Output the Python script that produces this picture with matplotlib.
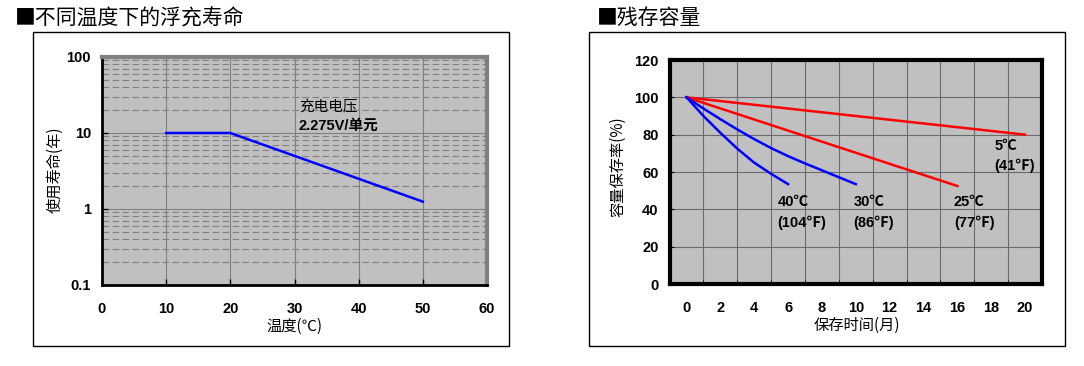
import matplotlib
matplotlib.use('Agg')
import matplotlib.pyplot as plt
import matplotlib.patches as patches
from matplotlib.ticker import LogLocator, NullFormatter

plt.rcParams['font.family'] = ['Liberation Sans', 'Noto Sans CJK SC', 'DejaVu Sans']

# float life vs temperature
temps = [10, 20, 30, 40, 50]
life_years = [10, 10, 5, 2.5, 1.25]

# residual capacity vs storage time
t_40 = [0, 1, 2, 3, 4, 5, 6]
cap_40 = [100, 90, 81, 72.5, 65, 59, 53.5]
t_30 = [0, 1, 2, 3, 4, 5, 6, 7, 8, 9, 10]
cap_30 = [100, 94, 88.3, 82.8, 77.6, 72.8, 68.5, 64.6, 60.9, 57.2, 53.5]
t_25 = [0, 16]
cap_25 = [100, 52.5]
t_5 = [0, 20]
cap_5 = [100, 80]

bg = '#c0c0c0'
grid_c = '#808080'
cjk = ['Noto Sans CJK SC', 'DejaVu Sans']
num_font = ['Liberation Sans', 'Noto Sans CJK SC']

fig = plt.figure(figsize=(10.84, 3.66), dpi=100)
W, H = 1084, 366


def px_axes(x0, y0, x1, y1):
    return fig.add_axes([x0 / W, 1 - y1 / H, (x1 - x0) / W, (y1 - y0) / H])


# outer boxes
for (x0, y0, x1, y1) in [(33, 32, 509, 346), (589, 32, 1065, 346)]:
    fig.patches.append(patches.Rectangle((x0 / W, 1 - y1 / H), (x1 - x0) / W, (y1 - y0) / H,
                                         transform=fig.transFigure, fill=False,
                                         edgecolor='black', linewidth=1))

fig.text(15 / W, 1 - 18 / H, '■不同温度下的浮充寿命', fontsize=15, family=cjk,
         ha='left', va='center')
fig.text(597 / W, 1 - 18 / H, '■残存容量', fontsize=15, family=cjk,
         ha='left', va='center')

# ---- left chart ----
ax1 = px_axes(102, 57, 487, 285)
ax1.set_facecolor(bg)
ax1.set_yscale('log')
ax1.set_xlim(0, 60)
ax1.set_ylim(0.1, 100)
ax1.set_xticks(range(0, 61, 10))
ax1.set_yticks([0.1, 1, 10, 100], ['0.1', '1', '10', '100'])
ax1.yaxis.set_minor_locator(LogLocator(base=10, subs=range(2, 10)))
ax1.yaxis.set_minor_formatter(NullFormatter())
ax1.tick_params(axis='y', which='minor', length=0)
ax1.tick_params(axis='both', which='major', direction='in', length=4, width=1,
                labelsize=10.5)
ax1.tick_params(axis='y', pad=8)
ax1.tick_params(axis='x', pad=12)
for lab in ax1.get_xticklabels() + ax1.get_yticklabels():
    lab.set_fontweight('bold')
    lab.set_family(num_font)
ax1.grid(True, axis='x', which='major', color=grid_c, lw=0.8)
ax1.grid(True, axis='y', which='major', color=grid_c, lw=0.8)
ax1.grid(True, axis='y', which='minor', color=grid_c, lw=0.8, ls=(0, (6, 3)))
ax1.set_axisbelow(True)
ax1.spines['left'].set_linewidth(2)
ax1.spines['bottom'].set_linewidth(2)
ax1.spines['top'].set_color(grid_c)
ax1.spines['top'].set_linewidth(3)
ax1.spines['right'].set_color(grid_c)
ax1.spines['right'].set_linewidth(3)

ax1.plot(temps, life_years, color='#0000ff', lw=1.8)
ax1.text(30.7, 22, '充电电压', fontsize=10.5, family=cjk, ha='left', va='center')
ax1.text(30.7, 12.4, '2.275V/单元', fontsize=10.5, fontweight='bold', family=num_font,
         ha='left', va='center')

ax1.set_xlabel('温度(℃)', fontsize=11, family=cjk, va='center')
ax1.xaxis.set_label_coords(0.501, -0.18)
ax1.set_ylabel('使用寿命(年)', fontsize=11, family=cjk, va='center')
ax1.yaxis.set_label_coords(-0.122, 0.504)

# ---- right chart ----
ax2 = px_axes(669.6, 60, 1042, 284)
ax2.set_facecolor(bg)
ax2.set_xlim(-1, 21)
ax2.set_ylim(0, 120)
ax2.set_xticks(range(0, 21, 2))
ax2.set_xticks(range(1, 21, 2), minor=True)
ax2.set_yticks(range(0, 121, 20))
ax2.tick_params(axis='x', which='major', length=0, pad=12, labelsize=10.5)
ax2.tick_params(axis='x', which='minor', direction='in', length=3)
ax2.tick_params(axis='y', which='major', direction='in', length=3, pad=8, labelsize=10.5)
for lab in ax2.get_xticklabels() + ax2.get_yticklabels():
    lab.set_fontweight('bold')
    lab.set_family(num_font)
ax2.grid(True, axis='x', which='minor', color='#6a6a6a', lw=0.8)
ax2.grid(True, axis='y', which='major', color='#6a6a6a', lw=0.8)
ax2.set_axisbelow(True)
for s in ax2.spines.values():
    s.set_linewidth(3)
    s.set_color('black')

ax2.plot(t_5, cap_5, color='#ff0000', lw=1.8)
ax2.plot(t_25, cap_25, color='#ff0000', lw=1.8)
ax2.plot(t_30, cap_30, color='#0000ff', lw=1.8)
ax2.plot(t_40, cap_40, color='#0000ff', lw=1.8)

labels = [('5℃', '(41℉)', 18.2, 74.1), ('25℃', '(77℉)', 15.8, 43.7),
          ('30℃', '(86℉)', 9.86, 43.7), ('40℃', '(104℉)', 5.37, 43.7)]
for top, bottom, lx, ly in labels:
    ax2.text(lx, ly, top, fontsize=10.5, fontweight='bold', family=num_font,
             ha='left', va='center')
    ax2.text(lx, ly - 11, bottom, fontsize=10.5, fontweight='bold', family=num_font,
             ha='left', va='center')

ax2.set_xlabel('保存时间(月)', fontsize=11, family=cjk, va='center')
ax2.xaxis.set_label_coords(0.503, -0.183)
ax2.set_ylabel('容量保存率(%)', fontsize=11, family=cjk, va='center')
ax2.yaxis.set_label_coords(-0.139, 0.522)

fig.savefig('out.png', dpi=100, facecolor='white')
